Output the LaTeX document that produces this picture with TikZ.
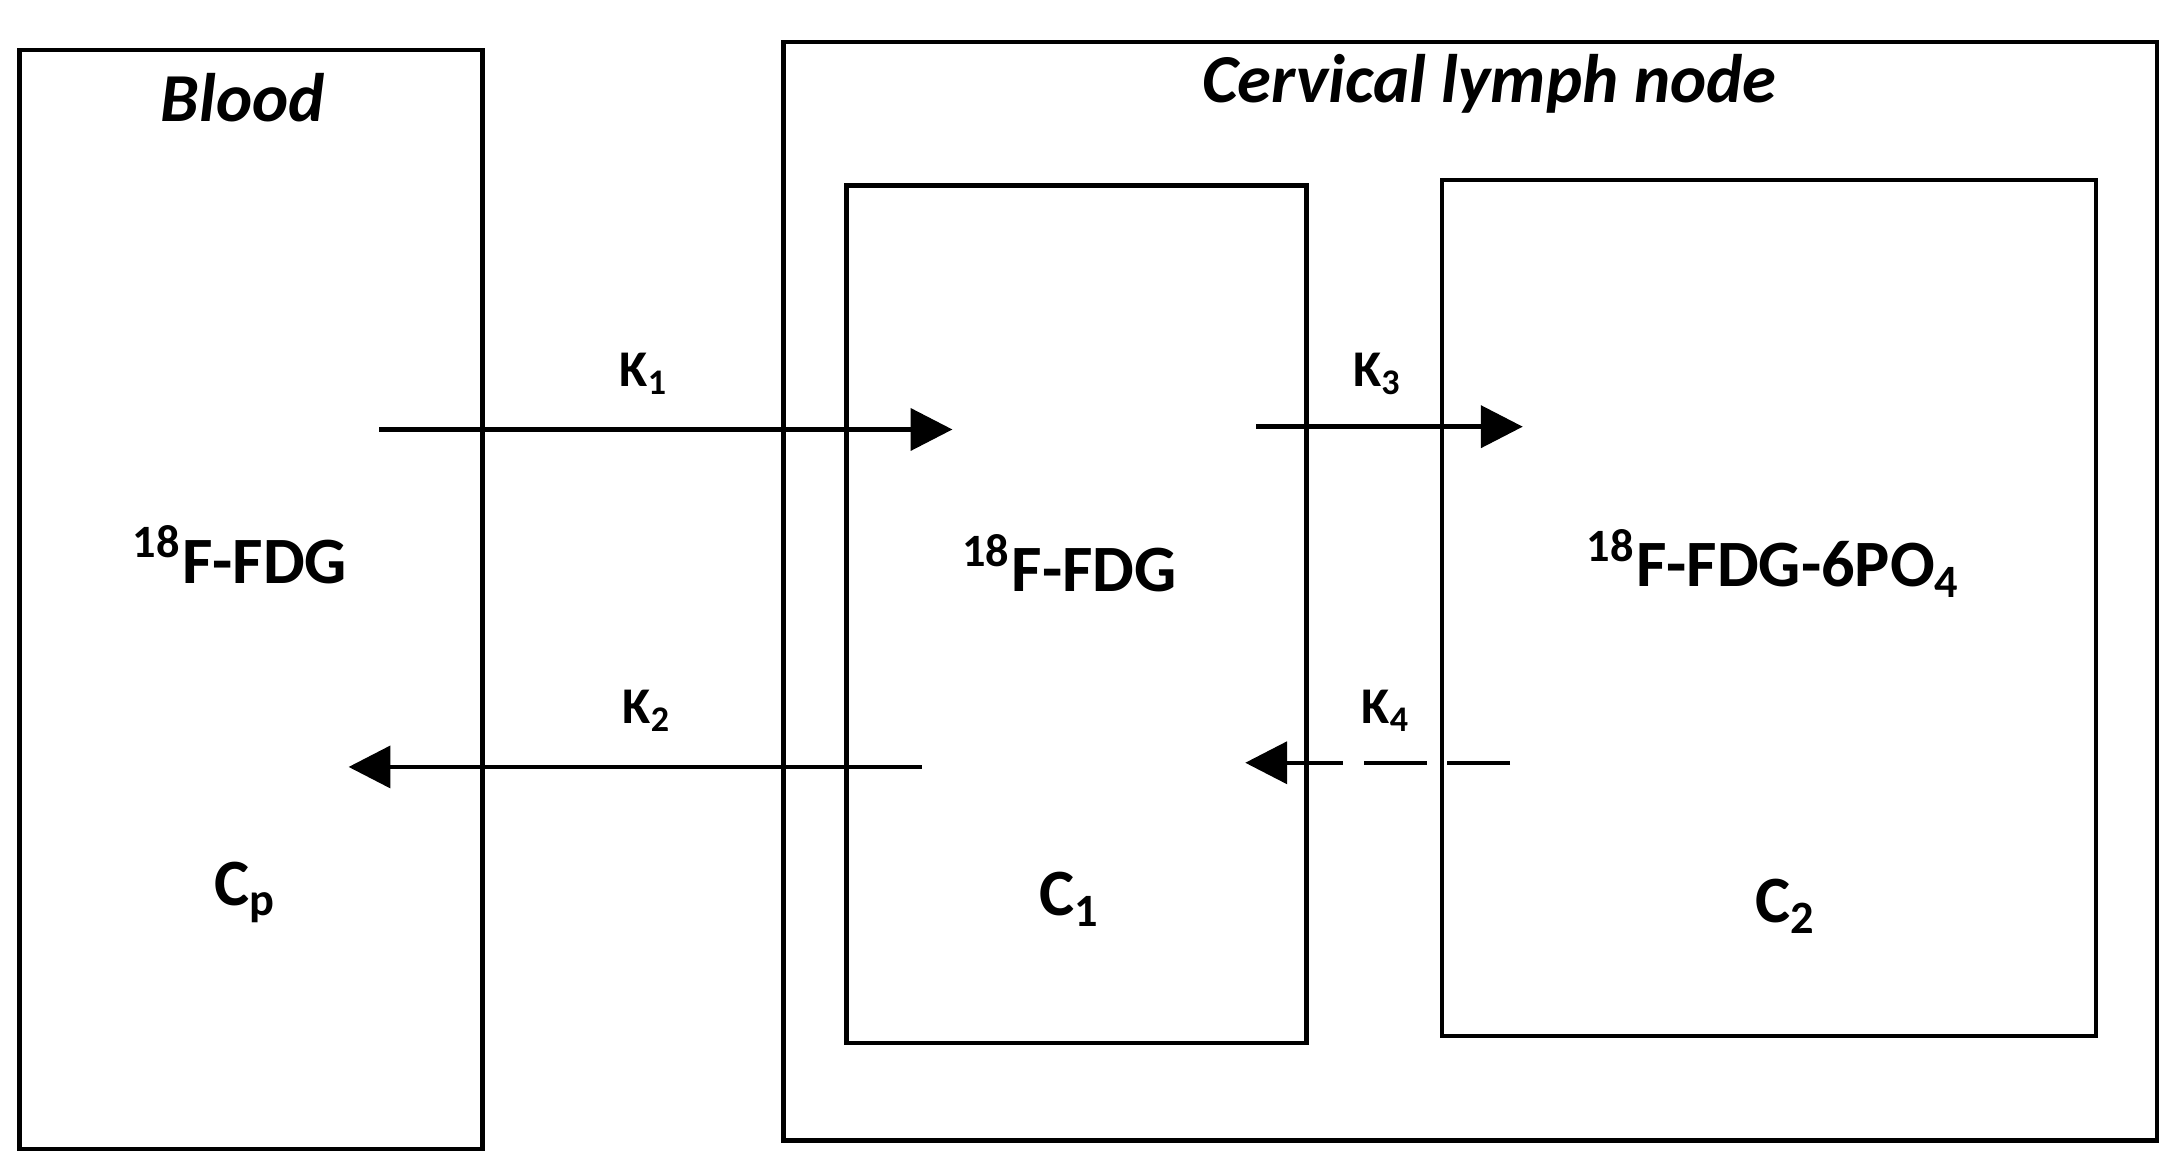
\documentclass[tikz,border=0pt]{standalone}
\usepackage{fontspec}
\setmainfont{Carlito}
\usetikzlibrary{arrows.meta}
\begin{document}
\begin{tikzpicture}[x=0.01cm,y=-0.01cm,
  box/.style={draw,line width=0.9pt},
  arr/.style={line width=0.9pt,-{Triangle[length=0.3cm,width=0.3cm]}},
  lab/.style={font=\fontsize{10.5}{12}\selectfont\bfseries},
  big/.style={font=\fontsize{13.5}{16}\selectfont\bfseries},
  ttl/.style={font=\fontsize{14}{16}\selectfont\bfseries\itshape}]
\useasboundingbox (0,0) rectangle (1554,828);
\draw[box] (14,36) rectangle (346,824);
\draw[box] (562,30) rectangle (1547,818);
\draw[box] (607,133) rectangle (937,748);
\draw[box] (1034,129) rectangle (1503,743);
\node[ttl] (tb) at (174,70) {Blood};
\node[ttl] (tl) at (1068,60) {Cervical lymph node};
\node[big] (f1) at (172,398) {\textsuperscript{18}F-FDG};
\node[big] (f2) at (767,404) {\textsuperscript{18}F-FDG};
\node[big] (f3) at (1272,404) {\textsuperscript{18}F-FDG-6PO\textsubscript{4}};
\node[big] (cp) at (176,640) {C\textsubscript{p}};
\node[big] (c1) at (767,645) {C\textsubscript{1}};
\node[big] (c2) at (1281,650) {C\textsubscript{2}};
\node[lab] at (462,268) {K\textsubscript{1}};
\node[lab] at (464,510) {K\textsubscript{2}};
\node[lab] at (988,268) {K\textsubscript{3}};
\node[lab] at (994,510) {K\textsubscript{4}};
\coordinate (a1) at (272,308); \coordinate (b1) at (683,308);
\coordinate (a2) at (661,550); \coordinate (b2) at (250,550);
\coordinate (a3) at (901,306); \coordinate (b3) at (1092,306);
\coordinate (a4) at (1083,547); \coordinate (b4) at (893,547);
\draw[arr] (a1) -- (b1);
\draw[arr] (a2) -- (b2);
\draw[arr] (a3) -- (b3);
\draw[arr,dash pattern=on 0.45cm off 0.15cm] (a4) -- (b4);
\end{tikzpicture}
\end{document}
